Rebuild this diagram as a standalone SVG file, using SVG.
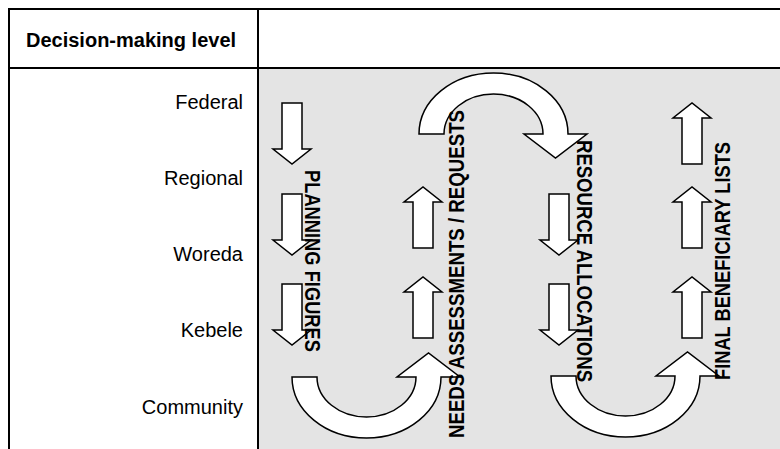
<svg xmlns="http://www.w3.org/2000/svg" xmlns:xlink="http://www.w3.org/1999/xlink" width="780" height="449" viewBox="0 0 780 449">
  <style>
    .rule { stroke: #000; stroke-width: 2; fill: none; }
    .lvl { font-family: "Liberation Sans", Arial, sans-serif; font-size: 20px; fill: #000; text-anchor: end; }
    .hdr { font-family: "Liberation Sans", Arial, sans-serif; font-size: 20px; font-weight: bold; fill: #000; }
    .flow { font-family: "Liberation Sans", Arial, sans-serif; font-size: 22.5px; font-weight: bold; fill: #000; }
    .arr { fill: #fff; stroke: #000; stroke-width: 1.5; stroke-linejoin: miter; }
  </style>
  <defs>
    <path id="down" class="arr" d="M-10,0 H10 V46 H19 L0,61 L-19,46 H-10 Z"/>
    <path id="up" class="arr" d="M-10,61 H10 V15 H19 L0,0 L-19,15 H-10 Z"/>
    <path id="uturn" class="arr" d="M-74.5,0 A74.5,61 0 0 0 74.5,0 L93.5,0 L62,-24 L30.5,0 L49.5,0 A49.5,40 0 0 1 -49.5,0 Z"/>
  </defs>

  <g id="table">
    <rect x="0" y="0" width="780" height="449" fill="#fff"/>
    <rect x="258" y="68" width="522" height="381" fill="#e4e4e4"/>
    <line class="rule" x1="9" y1="9" x2="780" y2="9"/>
    <line class="rule" x1="9" y1="68" x2="780" y2="68"/>
    <line class="rule" x1="9" y1="8" x2="9" y2="449"/>
    <line class="rule" x1="258" y1="8" x2="258" y2="449"/>
    <text class="hdr" x="26" y="47">Decision-making level</text>
  </g>

  <g id="levels">
    <g id="level-federal"><text class="lvl" x="243" y="109">Federal</text></g>
    <g id="level-regional"><text class="lvl" x="243" y="185">Regional</text></g>
    <g id="level-woreda"><text class="lvl" x="243" y="261">Woreda</text></g>
    <g id="level-kebele"><text class="lvl" x="243" y="337">Kebele</text></g>
    <g id="level-community"><text class="lvl" x="243" y="414">Community</text></g>
  </g>

  <g id="connectors">
    <use xlink:href="#down" x="292" y="103"/>
    <use xlink:href="#down" x="292" y="194"/>
    <use xlink:href="#down" x="292" y="284"/>
    <use xlink:href="#uturn" transform="translate(366.5,377)"/>
    <use xlink:href="#up" x="423" y="187"/>
    <use xlink:href="#up" x="423" y="277"/>
    <use xlink:href="#uturn" transform="translate(493.5,134) scale(1,-1)"/>
    <use xlink:href="#down" x="559" y="194"/>
    <use xlink:href="#down" x="559" y="284"/>
    <use xlink:href="#uturn" transform="translate(625.5,376)"/>
    <use xlink:href="#up" x="692" y="103"/>
    <use xlink:href="#up" x="692" y="187"/>
    <use xlink:href="#up" x="692" y="277"/>
  </g>

  <g id="flow-labels">
    <g id="planning-figures"><text class="flow" transform="translate(305,170) rotate(90)" textLength="182" lengthAdjust="spacingAndGlyphs">PLANNING FIGURES</text></g>
    <g id="needs-assessments"><text class="flow" transform="translate(463.5,438) rotate(-90)" textLength="328" lengthAdjust="spacingAndGlyphs">NEEDS  ASSESSMENTS / REQUESTS</text></g>
    <g id="resource-allocations"><text class="flow" transform="translate(577,140) rotate(90)" textLength="242" lengthAdjust="spacingAndGlyphs">RESOURCE ALLOCATIONS</text></g>
    <g id="final-lists"><text class="flow" transform="translate(729.5,380) rotate(-90)" textLength="238" lengthAdjust="spacingAndGlyphs">FINAL BENEFICIARY LISTS</text></g>
  </g>
</svg>
